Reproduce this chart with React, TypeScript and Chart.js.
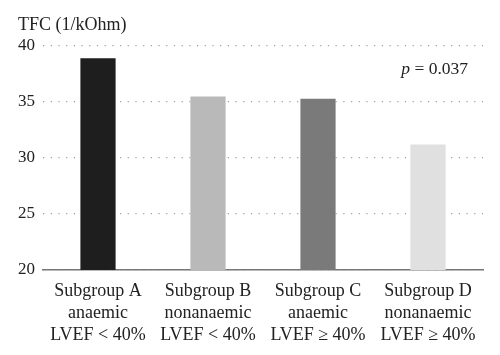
import React, { useEffect, useRef } from "react";
import { Chart, registerables } from "chart.js";

Chart.register(...registerables);

const categories: string[][] = [
  ["Subgroup A", "anaemic", "LVEF < 40%"],
  ["Subgroup B", "nonanaemic", "LVEF < 40%"],
  ["Subgroup C", "anaemic", "LVEF ≥ 40%"],
  ["Subgroup D", "nonanaemic", "LVEF ≥ 40%"],
];
const tfcValues: number[] = [38.9, 35.5, 35.3, 31.2];
const barColors: string[] = ["#1e1e1e", "#b9b9b9", "#7a7a7a", "#e0e0e0"];
const yTicks: number[] = [20, 25, 30, 35, 40];
const yAxisTitle = "TFC (1/kOhm)";
const pValueText = "0.037";

const FONT = "'Liberation Serif', 'DejaVu Serif', serif";

const annotations = {
  id: "annotations",
  afterDraw(chart: any) {
    const ctx = chart.ctx;
    const area = chart.chartArea;
    ctx.save();
    ctx.fillStyle = "#222";
    ctx.textBaseline = "middle";
    ctx.textAlign = "left";
    ctx.font = `18px ${FONT}`;
    ctx.fillText(yAxisTitle, 18, 25);
    // p value
    const rest = " = " + pValueText;
    ctx.font = `17.5px ${FONT}`;
    const wRest = ctx.measureText(rest).width;
    ctx.font = `italic 17.5px ${FONT}`;
    const wP = ctx.measureText("p").width;
    const right = area.right - 15;
    const y = chart.scales.y.getPixelForValue(37.9);
    const x0 = right - wRest - wP;
    ctx.fillText("p", x0, y);
    ctx.font = `17.5px ${FONT}`;
    ctx.fillText(rest, x0 + wP, y);
    ctx.restore();
  },
};

export default function App() {
  const ref = useRef<HTMLCanvasElement | null>(null);
  useEffect(() => {
    document.body.style.margin = "0";
    const canvas = ref.current!;
    const chart = new Chart(canvas, {
      type: "bar",
      data: {
        labels: categories,
        datasets: [
          {
            data: tfcValues,
            backgroundColor: barColors,
            borderWidth: 0,
            barPercentage: 0.32,
            categoryPercentage: 1,
          },
        ],
      },
      options: {
        animation: false,
        responsive: false,
        layout: { padding: { top: 46, right: 17, left: 0, bottom: 0 } },
        plugins: {
          legend: { display: false },
          tooltip: { enabled: false },
        },
        scales: {
          x: {
            grid: { display: false, drawTicks: false },
            border: { display: true, color: "#777", width: 1.5 },
            ticks: {
              color: "#222",
              font: { family: FONT, size: 18, lineHeight: 1.22 },
              padding: 10,
              maxRotation: 0,
              autoSkip: false,
            },
            afterFit(scale: any) {
              scale.height = 85;
            },
          },
          y: {
            min: 20,
            max: 40,
            afterBuildTicks(scale: any) {
              scale.ticks = yTicks.map((v) => ({ value: v }));
            },
            grid: {
              color: "#a0a0a0",
              lineWidth: 1.2,
              drawTicks: false,
            },
            border: { display: false, dash: [1.2, 6.5] },
            ticks: {
              color: "#222",
              font: { family: FONT, size: 17 },
              padding: 8,
            },
            afterFit(scale: any) {
              scale.width = 43;
            },
          },
        },
      },
      plugins: [annotations],
    });
    return () => chart.destroy();
  }, []);
  return (
    <div style={{ width: 500, height: 355 }}>
      <canvas ref={ref} width={500} height={355} />
    </div>
  );
}
